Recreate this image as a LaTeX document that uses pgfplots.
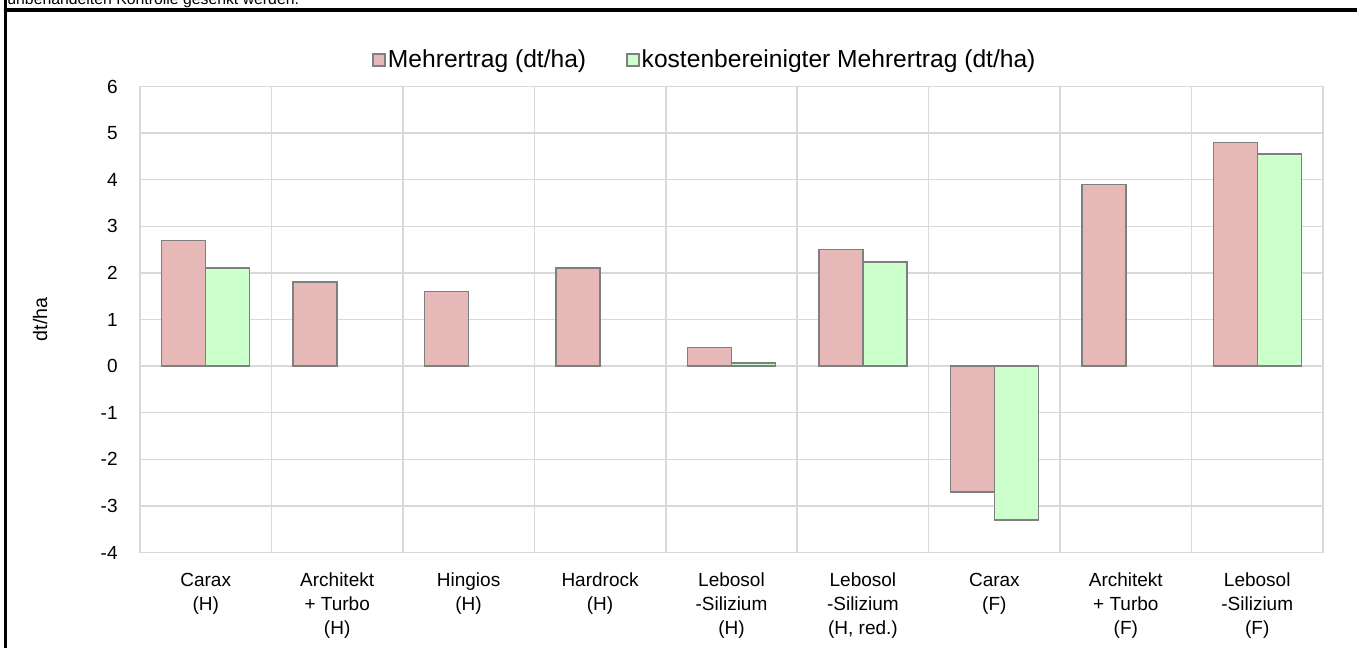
\documentclass[border=0pt]{standalone}
\usepackage{pgfplots}
\pgfplotsset{compat=1.18}
\usepackage{fontspec}
\setmainfont{Liberation Sans}

\definecolor{barred}{HTML}{E6B8B7}
\definecolor{bargreen}{HTML}{CCFFCC}
\definecolor{baredge}{HTML}{7F7F7F}
\definecolor{gridgray}{HTML}{D9D9D9}

\begin{document}
\begin{tikzpicture}
\useasboundingbox (0,0) rectangle (678.5pt,-324pt);

% frame and the cut-off caption line above the chart
\begin{scope}
  \clip (0,0) rectangle (678.5pt,-324pt);
  \node[anchor=base west, inner sep=0pt, font=\fontsize{7.9}{10}\selectfont]
    at (3.5pt,-2.1pt) {unbehandelten Kontrolle gesenkt werden.};
  \draw[line width=1.5pt] (2.5pt,0) -- (2.5pt,-324pt);
  \draw[line width=1.8pt] (1.75pt,-5pt) -- (678.5pt,-5pt);
\end{scope}

\begin{axis}[
  at={(70pt,-276.25pt)}, anchor=south west,
  scale only axis, width=591.5pt, height=233pt,
  ybar=0pt, bar width=22pt,
  xmin=-0.5, xmax=8.5,
  ymin=-4, ymax=6,
  ytick={-4,-3,...,6},
  xtick={0,...,8},
  minor xtick={-0.5,0.5,...,8.5},
  xticklabels={
    {Carax\\(H)},
    {Architekt\\+ Turbo\\(H)},
    {Hingios\\(H)},
    {Hardrock\\(H)},
    {Lebosol\\-Silizium\\(H)},
    {Lebosol\\-Silizium\\(H, red.)},
    {Carax\\(F)},
    {Architekt\\+ Turbo\\(F)},
    {Lebosol\\-Silizium\\(F)}},
  major tick length=0pt, minor tick length=0pt,
  ymajorgrids, xminorgrids,
  grid style={draw=gridgray, line width=0.75pt},
  minor grid style={draw=gridgray, line width=0.75pt},
  axis line style={draw=gridgray, line width=0.75pt},
  /pgf/number format/assume math mode=true,
  tick label style={font=\fontsize{9.5}{12}\selectfont},
  xticklabel style={align=center, anchor=north, inner sep=0pt, yshift=-10pt},
  yticklabel style={anchor=east, inner sep=0pt, xshift=-11pt},
  ylabel={dt/ha},
  every axis y label/.style={at={(axis description cs:-0.0845,0.5)},
    anchor=center, rotate=90, font=\fontsize{9.8}{12}\selectfont},
  legend columns=2,
  legend style={
    at={(axis description cs:0.4776,1.0569)}, anchor=center,
    draw=none, fill=none,
    font=\fontsize{12.3}{14}\selectfont,
    nodes={inner sep=1pt},
    /tikz/every even column/.append style={column sep=19pt}},
  legend image code/.code={
    \draw[#1] (0pt,-3pt) rectangle (6pt,3pt);},
]
\addplot[fill=barred, draw=baredge, line width=0.75pt]
  coordinates {(0,2.7) (1,1.8) (2,1.6) (3,2.1) (4,0.4) (5,2.5) (6,-2.7) (7,3.9) (8,4.8)};
\addplot[fill=bargreen, draw=baredge, line width=0.75pt]
  coordinates {(0,2.1) (4,0.07) (5,2.23) (6,-3.3) (8,4.55)};
\legend{Mehrertrag (dt/ha), kostenbereinigter Mehrertrag (dt/ha)}
\end{axis}
\end{tikzpicture}
\end{document}
